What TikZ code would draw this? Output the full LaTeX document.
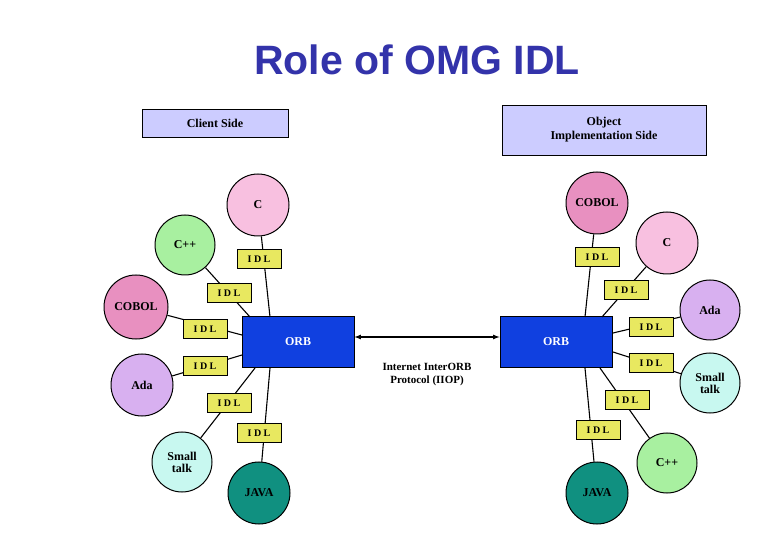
\documentclass[tikz,border=0pt]{standalone}
\usepackage{fontspec}
\setmainfont{Liberation Serif}
\newfontfamily\titlefont{Liberation Sans}
\begin{document}
\begin{tikzpicture}[x=1pt,y=-1pt,
  lang/.style={circle,draw=black,line width=1pt,minimum size=62pt,inner sep=0pt,align=center,font=\bfseries\fontsize{12}{12}\selectfont},
  idl/.style={draw=black,line width=0.8pt,fill=idlc,minimum width=44pt,minimum height=19pt,inner sep=0pt,font=\bfseries\fontsize{10}{10}\selectfont},
  orb/.style={draw=black,line width=1pt,fill=orbc,minimum width=112pt,minimum height=51pt,text=white,font=\bfseries\fontsize{12}{12}\selectfont},
  side/.style={draw=black,line width=0.8pt,fill=sidec,align=center,font=\bfseries\fontsize{12}{14}\selectfont},
  conn/.style={line width=1.1pt}]
\definecolor{idlc}{HTML}{E8E860}
\definecolor{orbc}{HTML}{1040E0}
\definecolor{sidec}{HTML}{CCCCFF}
\definecolor{cc}{HTML}{F8C0E0}
\definecolor{cppc}{HTML}{A8F0A0}
\definecolor{cobc}{HTML}{E890C0}
\definecolor{adac}{HTML}{D8B0F0}
\definecolor{stc}{HTML}{C8F8F0}
\definecolor{javc}{HTML}{109080}
\definecolor{titc}{HTML}{3333AA}
\useasboundingbox (0,0) rectangle (780,540);
\fill[white] (0,0) rectangle (780,540);
\node[text=titc,font=\titlefont\bfseries\fontsize{41}{46}\selectfont] (title) at (417,60) {Role of OMG IDL};
\node[side,minimum width=146pt,minimum height=28pt] (cs) at (215,123) {Client Side};
\node[side,minimum width=204pt,minimum height=50pt] (os) at (604,130) {Object\\Implementation Side};
% ORBs
\node[orb] (lorb) at (298,342) {ORB};
\node[orb] (rorb) at (556,342) {ORB};
% attach points
\coordinate (la1) at (270,317); \coordinate (la2) at (250,317);
\coordinate (la3) at (242,335); \coordinate (la4) at (242,355);
\coordinate (la5) at (255,368); \coordinate (la6) at (270,368);
\coordinate (ra1) at (585,317); \coordinate (ra2) at (602,317);
\coordinate (ra3) at (613,333); \coordinate (ra4) at (613,352);
\coordinate (ra5) at (600,368); \coordinate (ra6) at (585,368);
% left circles
\node[lang,fill=cc] (lc) at (258,205) {C};
\node[lang,fill=cppc,minimum size=60pt] (lcpp) at (185,245) {C++};
\node[lang,fill=cobc,minimum size=64pt] (lcob) at (136,307) {COBOL};
\node[lang,fill=adac] (lada) at (142,385) {Ada};
\node[lang,fill=stc,minimum size=60pt] (lst) at (182,462) {Small\\talk};
\node[lang,fill=javc] (ljav) at (259,493) {JAVA};
% right circles
\node[lang,fill=cobc] (rcob) at (597,203) {COBOL};
\node[lang,fill=cc] (rc) at (667,243) {C};
\node[lang,fill=adac,minimum size=60pt] (rada) at (710,310) {Ada};
\node[lang,fill=stc,minimum size=60pt] (rst) at (710,383) {Small\\talk};
\node[lang,fill=cppc,minimum size=60pt] (rcpp) at (667,463) {C++};
\node[lang,fill=javc] (rjav) at (597,493) {JAVA};
% connectors
\foreach \a/\c in {la1/lc,la2/lcpp,la3/lcob,la4/lada,la5/lst,la6/ljav,ra1/rcob,ra2/rc,ra3/rada,ra4/rst,ra5/rcpp,ra6/rjav}
  \draw[conn] (\a) -- (\c);
% IDL boxes
\node[idl] (li1) at (259,259) {I D L};
\node[idl] (li2) at (229,293) {I D L};
\node[idl] (li3) at (205,329) {I D L};
\node[idl] (li4) at (205,366) {I D L};
\node[idl] (li5) at (229,403) {I D L};
\node[idl] (li6) at (259,433) {I D L};
\node[idl] (ri1) at (597,257) {I D L};
\node[idl] (ri2) at (626,290) {I D L};
\node[idl] (ri3) at (651,327) {I D L};
\node[idl] (ri4) at (651,363) {I D L};
\node[idl] (ri5) at (627,400) {I D L};
\node[idl] (ri6) at (598,430) {I D L};
% IIOP
\draw[line width=1.2pt,<->,>=latex] (lorb.east |- 0,337) -- (rorb.west |- 0,337);
\node[align=center,font=\bfseries\fontsize{11}{13}\selectfont] (iiop) at (427,375) {Internet InterORB\\Protocol (IIOP)};
\end{tikzpicture}
\end{document}
